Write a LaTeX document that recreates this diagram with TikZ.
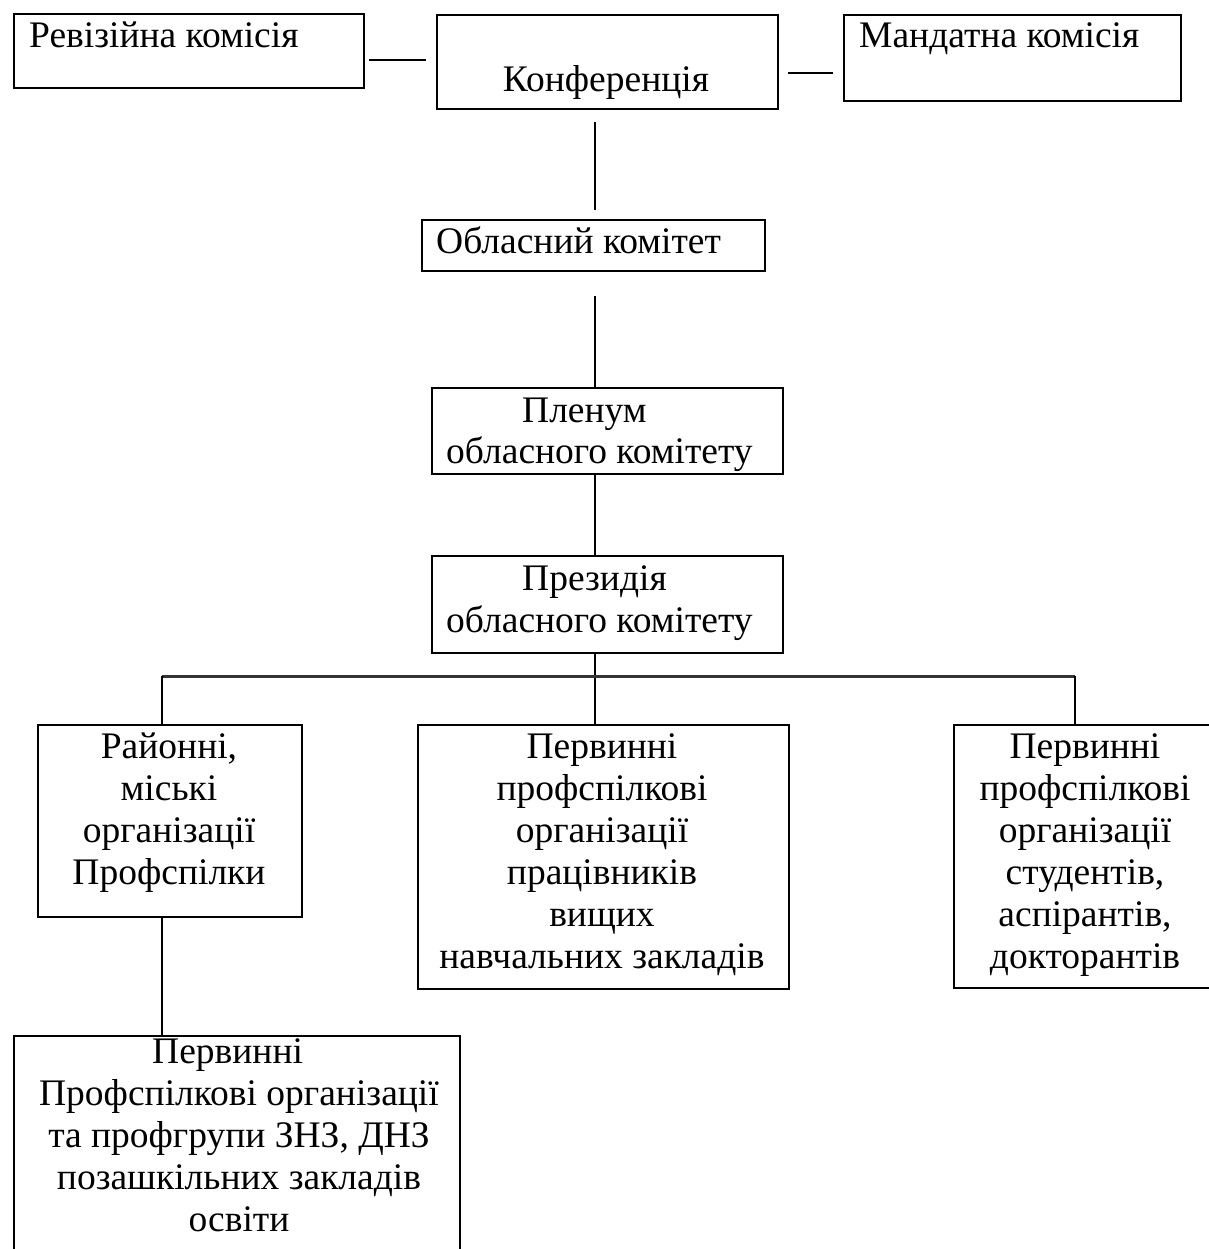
\documentclass[tikz,border=0pt]{standalone}
\usepackage{fontspec}
\setmainfont{Liberation Serif}
\begin{document}
\begin{tikzpicture}[x=1pt,y=-1pt,
  box/.style={draw=black,line width=2pt,inner sep=0pt,anchor=north west},
  txt/.style={inner sep=0pt,font=\fontsize{37.5pt}{42pt}\selectfont},
  conn/.style={draw=black,line width=1.5pt}]
\useasboundingbox (0,0) rectangle (1208,1249);
% boxes
\node[box,minimum width=350pt,minimum height=74pt] (rev) at (13,13) {};
\node[box,minimum width=341pt,minimum height=94pt] (konf) at (436,14) {};
\node[box,minimum width=337pt,minimum height=86pt] (mand) at (843,14) {};
\node[box,minimum width=343pt,minimum height=51pt] (obl) at (421,219) {};
\node[box,minimum width=351pt,minimum height=86pt] (plen) at (431,387) {};
\node[box,minimum width=351pt,minimum height=97pt] (pres) at (431,555) {};
\node[box,minimum width=264pt,minimum height=192pt] (rai) at (37,724) {};
\node[box,minimum width=371pt,minimum height=264pt] (vnz) at (417,724) {};
\node[box,minimum width=264pt,minimum height=263pt] (stud) at (953,724) {};
\node[box,minimum width=446pt,minimum height=230pt] (znz) at (13,1035) {};
% texts
\node[txt,anchor=base west] (t1) at (29,48) {Ревізійна комісія};
\node[txt,anchor=base] (t2) at (606,92) {Конференція};
\node[txt,anchor=base west] (t3) at (859,48) {Мандатна комісія};
\node[txt,anchor=base west] (t4) at (436,254) {Обласний комітет};
\node[txt,anchor=base west] (t5a) at (522,422) {Пленум};
\node[txt,anchor=base west] (t5b) at (446,463) {обласного комітету};
\node[txt,anchor=base west] (t6a) at (522,590) {Президія};
\node[txt,anchor=base west] (t6b) at (446,632) {обласного комітету};
\node[txt,anchor=base] (t7a) at (169,758) {Районні,};
\node[txt,anchor=base] (t7b) at (169,800) {міські};
\node[txt,anchor=base] (t7c) at (169,842) {організації};
\node[txt,anchor=base] (t7d) at (169,884) {Профспілки};
\node[txt,anchor=base] (t8a) at (602,758) {Первинні};
\node[txt,anchor=base] (t8b) at (602,800) {профспілкові};
\node[txt,anchor=base] (t8c) at (602,842) {організації};
\node[txt,anchor=base] (t8d) at (602,884) {працівників};
\node[txt,anchor=base] (t8e) at (602,926) {вищих};
\node[txt,anchor=base] (t8f) at (602,968) {навчальних закладів};
\node[txt,anchor=base] (t9a) at (1085,758) {Первинні};
\node[txt,anchor=base] (t9b) at (1085,800) {профспілкові};
\node[txt,anchor=base] (t9c) at (1085,842) {організації};
\node[txt,anchor=base] (t9d) at (1085,884) {студентів,};
\node[txt,anchor=base] (t9e) at (1085,926) {аспірантів,};
\node[txt,anchor=base] (t9f) at (1085,968) {докторантів};
\node[txt,anchor=base west] (t10a) at (152,1063) {Первинні};
\node[txt,anchor=base] (t10b) at (239,1105) {Профспілкові організації};
\node[txt,anchor=base] (t10c) at (239,1147) {та профгрупи ЗНЗ, ДНЗ};
\node[txt,anchor=base] (t10d) at (239,1189) {позашкільних закладів};
\node[txt,anchor=base] (t10e) at (239,1231) {освіти};
% connector end points
\coordinate (a1) at (369,60); \coordinate (a2) at (426,60);
\coordinate (b1) at (788,73); \coordinate (b2) at (833,73);
\coordinate (c1) at (595,122); \coordinate (c2) at (595,210);
\coordinate (d1) at (595,296); \coordinate (d2) at (595,387);
\coordinate (e1) at (595,473); \coordinate (e2) at (595,555);
\coordinate (f1) at (595,652); \coordinate (f2) at (595,724);
\coordinate (hl) at (162,676); \coordinate (hr) at (1075,676);
\coordinate (g1) at (162,724); \coordinate (g2) at (1075,724);
\coordinate (k1) at (162,916); \coordinate (k2) at (162,1035);
% connectors
\draw[conn] (a1) -- (a2);
\draw[conn] (b1) -- (b2);
\draw[conn] (c1) -- (c2);
\draw[conn] (d1) -- (d2);
\draw[conn] (e1) -- (e2);
\draw[conn] (f1) -- (f2);
\draw[draw=black!80,line width=3pt] (hl) -- (hr);
\draw[conn] (hl) -- (g1);
\draw[conn] (hr) -- (g2);
\draw[conn] (k1) -- (k2);
\end{tikzpicture}
\end{document}
